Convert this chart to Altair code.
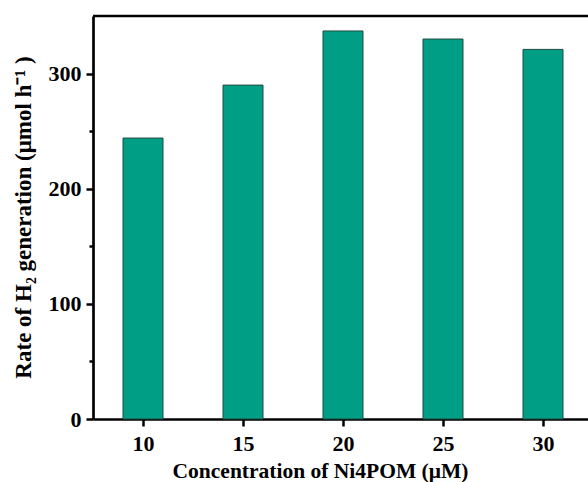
import altair as alt
import pandas as pd

# Ni4POM concentration (μM) and H2 evolution rate (μmol h-1)
concentration = [10, 15, 20, 25, 30]
rate = [244, 290, 337, 330, 321]

x_ticks = [10, 15, 20, 25, 30]
y_ticks = [0, 50, 100, 150, 200, 250, 300]

df = pd.DataFrame({"conc": concentration, "rate": rate})

FONT = "Liberation Serif"
X_DOMAIN = [7.5, 32.25]
Y_DOMAIN = [0, 350]

x_scale = alt.Scale(domain=X_DOMAIN, nice=False, zero=False)
y_scale = alt.Scale(domain=Y_DOMAIN, nice=False)

bars = (
    alt.Chart(df)
    .transform_calculate(x0="datum.conc - 1", x1="datum.conc + 1", base="0")
    .mark_rect(color="#009E85", stroke="#1f4a41", strokeWidth=1)
    .encode(
        x=alt.X(
            "x0:Q",
            scale=x_scale,
            axis=alt.Axis(
                values=x_ticks,
                title="Concentration of Ni4POM (μM)",
                titleFontSize=21.5,
                tickSize=7,
                tickWidth=2.5,
                labelBaseline="alphabetic",
                labelPadding=24,
                titleBaseline="alphabetic",
                titleX=227,
                titleY=58,
                grid=False,
            ),
        ),
        x2="x1:Q",
        y=alt.Y(
            "base:Q",
            scale=y_scale,
            axis=alt.Axis(
                values=y_ticks,
                title="Rate of H₂ generation (μmol h⁻¹ )",
                titleFontSize=23,
                labelExpr="datum.value % 100 === 0 ? datum.label : ''",
                tickSize={"condition": {"test": "datum.value % 100 === 0", "value": 7}, "value": 4},
                tickWidth=2.5,
                labelPadding=5,
                titleX=-58,
                titleY=201,
                grid=False,
            ),
        ),
        y2="rate:Q",
    )
)

# top frame line
top = (
    alt.Chart(pd.DataFrame({"y": [Y_DOMAIN[1]]}))
    .mark_rule(color="black", strokeWidth=2.7)
    .encode(y=alt.Y("y:Q", scale=y_scale), x=alt.value(0), x2=alt.value(495))
)

chart = (
    alt.layer(bars, top)
    .properties(
        width=495,
        height=403,
        autosize=alt.AutoSizeParams(type="none"),
        padding={"left": 93, "top": 16, "right": 0, "bottom": 63},
    )
    .configure_view(stroke=None)
    .configure_axis(
        domainColor="black",
        domainWidth=2.7,
        tickColor="black",
        labelFont=FONT,
        labelFontWeight="bold",
        labelFontSize=22,
        labelColor="black",
        titleFont=FONT,
        titleFontWeight="bold",
        titleColor="black",
    )
)

chart.save("out.html", embed_options={"renderer": "svg", "actions": False})
